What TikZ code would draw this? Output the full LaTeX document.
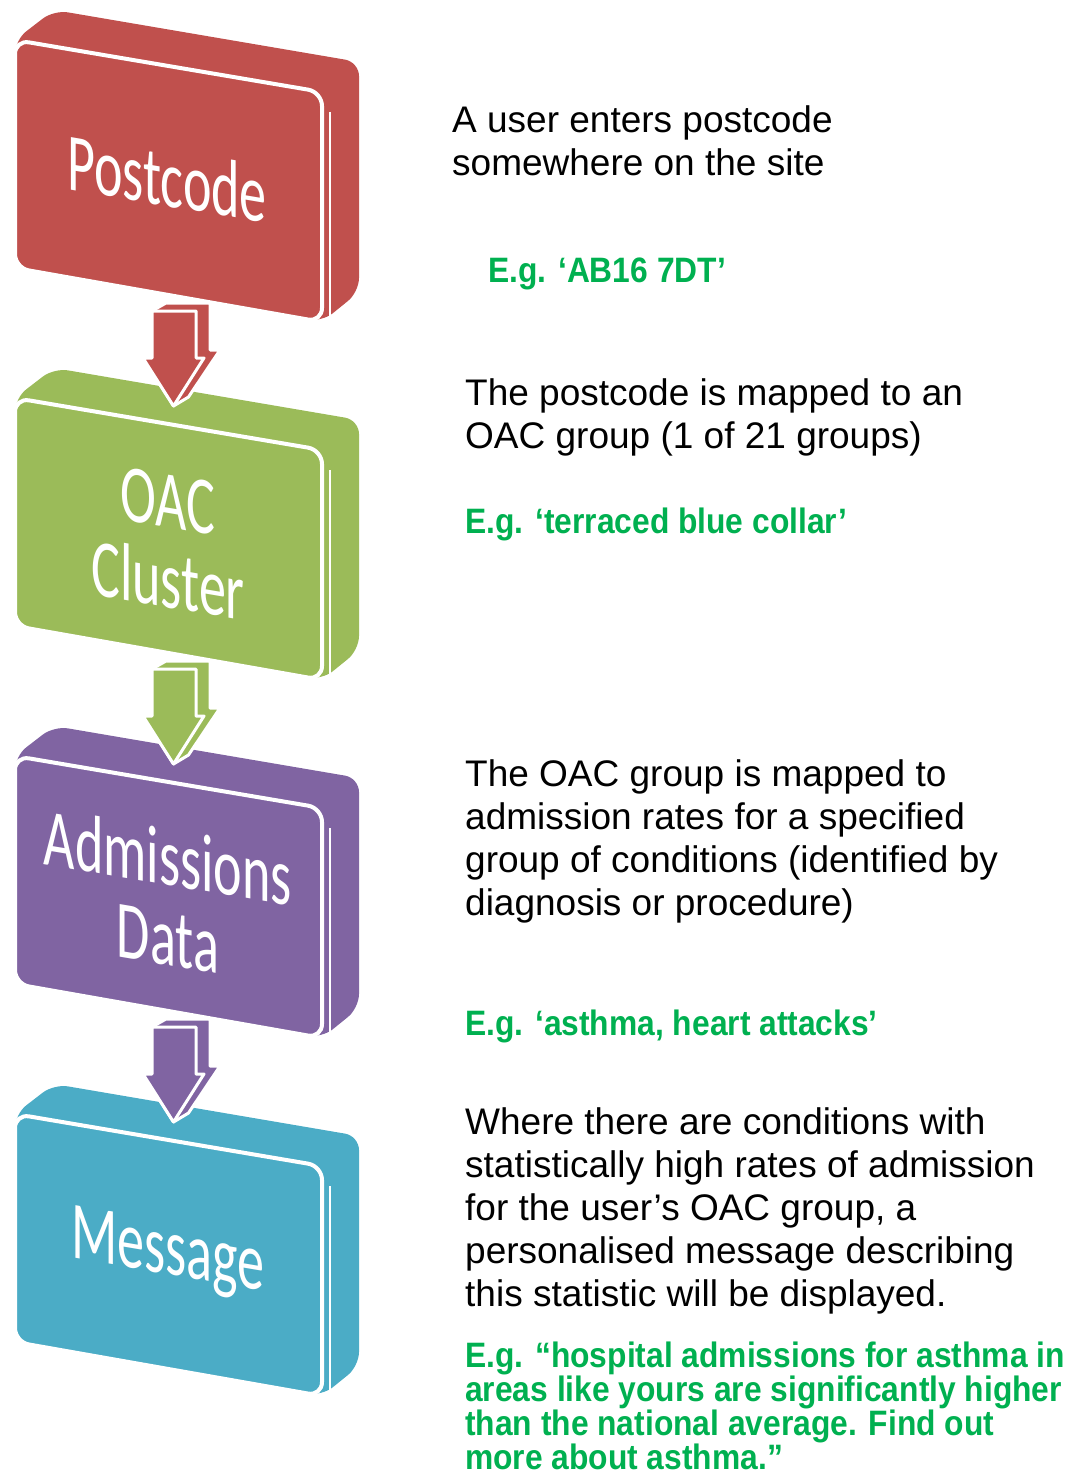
\documentclass[tikz,border=0pt]{standalone}
\usepackage{fontspec}
\setmainfont{Liberation Sans}
\newfontfamily\boxfont[FakeStretch=0.66]{Carlito}
\newfontfamily\greenfont[FakeStretch=0.9]{Liberation Sans}
\definecolor{cred}{HTML}{C0504D}
\definecolor{cgreen}{HTML}{9BBB59}
\definecolor{cpurple}{HTML}{8064A2}
\definecolor{cblue}{HTML}{4BACC6}
\definecolor{egreen}{HTML}{00B050}
\newcommand\flowbox[2]{%
 \begin{scope}[shift={#1}]
  \fill[#2, rounded corners=14pt] (0,0) -- (39,-30) -- (344,22) -- (344,252) -- (307,282) -- (0,228) -- cycle;
  \draw[white, line width=1.5] (315,72) -- (315,278);
  \filldraw[fill=#2, draw=white, line width=4, rounded corners=14pt] (0,0) -- (307,52) -- (307,282) -- (0,228) -- cycle;
 \end{scope}}
\newcommand\flowarrow[2]{%
 \begin{scope}[shift={#1}]
  \filldraw[fill=#2, draw=white, line width=3, line join=round] (0,0) -- (14,-8) -- (58,-8) -- (58,39) -- (68,39) -- (36.5,86) -- (21.5,95) -- (-9,47) -- (0,47) -- cycle;
  \filldraw[fill=#2, draw=white, line width=3, line join=round] (0,0) -- (44,0) -- (44,47) -- (52,47) -- (21.5,95) -- (-9,47) -- (0,47) -- cycle;
 \end{scope}}
\tikzset{
 boxtxt/.style={font=\boxfont\fontsize{82}{80}\selectfont, text=white, yslant=-0.17, align=center, inner sep=0pt},
 rtxt/.style={font=\fontsize{37}{43}\selectfont, anchor=base west, inner sep=0pt},
 gtxt/.style={font=\greenfont\bfseries\fontsize{35.3}{36}\selectfont, text=egreen, anchor=base west, inner sep=0pt}
}
\begin{document}
\begin{tikzpicture}[x=1pt, y=-1pt]
\useasboundingbox (0,0) rectangle (1076,1479);
% box origins (front top-left corners)
\coordinate (o1) at (15,40);
\coordinate (o2) at (15,398);
\coordinate (o3) at (15,756);
\coordinate (o4) at (15,1114);
% arrow origins (shaft top-left)
\coordinate (a1) at (152,311);
\coordinate (a2) at (152,669);
\coordinate (a3) at (152,1027);

\flowbox{(o1)}{cred}
\flowbox{(o2)}{cgreen}
\flowbox{(o3)}{cpurple}
\flowbox{(o4)}{cblue}

\flowarrow{(a1)}{cred}
\flowarrow{(a2)}{cgreen}
\flowarrow{(a3)}{cpurple}

\node[boxtxt] (b1) at (167,178) {Postcode};
\node[boxtxt] (b2) at (168,541) {OAC\\Cluster};
\node[boxtxt] (b3) at (168,897) {Admissions\\Data};
\node[boxtxt] (b4) at (168,1255) {Message};

% descriptions
\node[rtxt] (p1a) at (452,133) {A user enters postcode};
\node[rtxt] (p1b) at (452,176) {somewhere on the site};
\node[gtxt] (g1) at (488,282) {E.g. ‘AB16 7DT’};

\node[rtxt] (p2a) at (465,405) {The postcode is mapped to an};
\node[rtxt] (p2b) at (465,448) {OAC group (1 of 21 groups)};
\node[gtxt] (g2) at (465,533) {E.g. ‘terraced blue collar’};

\node[rtxt] (p3a) at (465,786) {The OAC group is mapped to};
\node[rtxt] (p3b) at (465,829) {admission rates for a specified};
\node[rtxt] (p3c) at (465,872) {group of conditions (identified by};
\node[rtxt] (p3d) at (465,915) {diagnosis or procedure)};
\node[gtxt] (g3) at (465,1035) {E.g. ‘asthma, heart attacks’};

\node[rtxt] (p4a) at (465,1134) {Where there are conditions with};
\node[rtxt] (p4b) at (465,1177) {statistically high rates of admission};
\node[rtxt] (p4c) at (465,1220) {for the user’s OAC group, a};
\node[rtxt] (p4d) at (465,1263) {personalised message describing};
\node[rtxt] (p4e) at (465,1306) {this statistic will be displayed.};

\node[gtxt] (g4a) at (465,1367) {E.g. “hospital admissions for asthma in};
\node[gtxt] (g4b) at (465,1401) {areas like yours are significantly higher};
\node[gtxt] (g4c) at (465,1435) {than the national average. Find out};
\node[gtxt] (g4d) at (465,1469) {more about asthma.”};
\end{tikzpicture}
\end{document}
